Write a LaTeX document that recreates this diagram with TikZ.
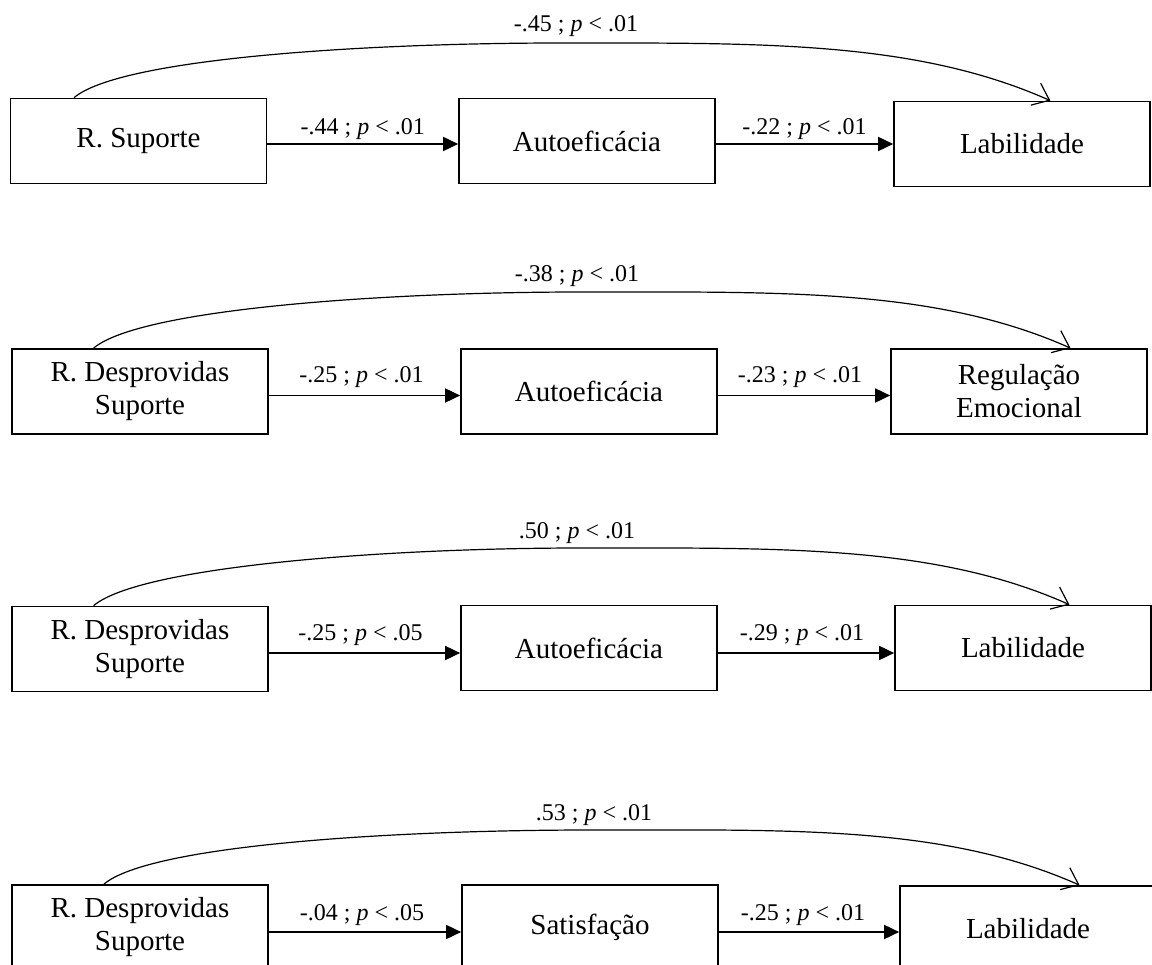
\documentclass[tikz,border=0pt]{standalone}
\usepackage{fontspec}
\setmainfont{Liberation Serif}
\usetikzlibrary{arrows.meta,calc}
\newcommand{\plab}[2]{#1 ; \textit{p} < #2}
\begin{document}
\begin{tikzpicture}[x=1pt,y=-1pt,
  box/.style={draw, line width=1.7pt, minimum width=256pt, minimum height=85pt,
    inner sep=0pt, align=center, font=\fontsize{29}{33}\selectfont},
  harrow/.style={line width=1.8pt, -{Triangle[length=15pt,width=14pt]}},
  curv/.style={line width=1.2pt, -{Straight Barb[length=15pt,width=24pt]}},
  lab/.style={anchor=base, font=\fontsize{24}{28}\selectfont, inner sep=0pt},
]
\useasboundingbox (0,0) rectangle (1152,965);
\clip (0,0) rectangle (1152,965);
\fill[white] (0,0) rectangle (1152,965);

% ---------- Row 1
\node[box] (L1) at (138.5,141) {R. Suporte};
\node[box] (M1) at (587,141) {Autoeficácia};
\node[box] (R1) at (1022,144) {Labilidade};
\coordinate (a1) at (0,144);
\draw[harrow] (L1.east |- a1) -- node[lab, yshift=9pt] {\plab{-.44}{.01}} (M1.west |- a1);
\draw[harrow] (M1.east |- a1) -- node[lab, yshift=9pt] {\plab{-.22}{.01}} (R1.west |- a1);
\coordinate (S1) at ($(L1.north west)!0.25!(L1.north east)$);
\coordinate (E1) at ($(R1.north west)!0.61!(R1.north east)$);
\coordinate (P1) at (562,43);
\draw[curv] (S1) .. controls +(46,-39) and +(-200,0) .. (P1)
            .. controls +(200,0) and +(-135,-60) .. (E1);
\node[lab] (T1) at (576,32) {\plab{-.45}{.01}};

% ---------- Row 2
\node[box] (L2) at (140,391.5) {R. Desprovidas\\Suporte};
\node[box] (M2) at (589,391.5) {Autoeficácia};
\node[box] (R2) at (1019,391.5) {Regulação\\Emocional};
\coordinate (a2) at (0,395.5);
\draw[harrow] (L2.east |- a2) -- node[lab, yshift=13pt, xshift=-3pt] {\plab{-.25}{.01}} (M2.west |- a2);
\draw[harrow] (M2.east |- a2) -- node[lab, yshift=13pt, xshift=-4pt] {\plab{-.23}{.01}} (R2.west |- a2);
\coordinate (S2) at ($(L2.north west)!0.32!(L2.north east)$);
\coordinate (E2) at ($(R2.north west)!0.70!(R2.north east)$);
\coordinate (P2) at (582,292);
\draw[curv] (S2) .. controls +(46,-39) and +(-200,0) .. (P2)
            .. controls +(200,0) and +(-135,-60) .. (E2);
\node[lab] (T2) at (577,282) {\plab{-.38}{.01}};

% ---------- Row 3
\node[box] (L3) at (140,649) {R. Desprovidas\\Suporte};
\node[box] (M3) at (589,648) {Autoeficácia};
\node[box] (R3) at (1023,648) {Labilidade};
\coordinate (a3) at (0,653);
\draw[harrow] (L3.east |- a3) -- node[lab, yshift=13pt, xshift=-4pt] {\plab{-.25}{.05}} (M3.west |- a3);
\draw[harrow] (M3.east |- a3) -- node[lab, yshift=13pt, xshift=-4pt] {\plab{-.29}{.01}} (R3.west |- a3);
\coordinate (S3) at ($(L3.north west)!0.32!(L3.north east)$);
\coordinate (E3) at ($(R3.north west)!0.68!(R3.north east)$);
\coordinate (P3) at (582,548);
\draw[curv] (S3) .. controls +(46,-39) and +(-200,0) .. (P3)
            .. controls +(200,0) and +(-135,-60) .. (E3);
\node[lab] (T3) at (577,539) {\plab{.50}{.01}};

% ---------- Row 4
\node[box] (L4) at (140,927.5) {R. Desprovidas\\Suporte};
\node[box] (M4) at (590,927.5) {Satisfação};
\node[box] (R4) at (1028,928.5) {Labilidade};
\coordinate (a4) at (0,932);
\draw[harrow] (L4.east |- a4) -- node[lab, yshift=12pt, xshift=-3pt] {\plab{-.04}{.05}} (M4.west |- a4);
\draw[harrow] (M4.east |- a4) -- node[lab, yshift=12pt, xshift=-6pt] {\plab{-.25}{.01}} (R4.west |- a4);
\coordinate (S4) at ($(L4.north west)!0.36!(L4.north east)$);
\coordinate (E4) at ($(R4.north west)!0.70!(R4.north east)$);
\coordinate (P4) at (592,830);
\draw[curv] (S4) .. controls +(46,-39) and +(-200,0) .. (P4)
            .. controls +(200,0) and +(-135,-60) .. (E4);
\node[lab] (T4) at (594,820) {\plab{.53}{.01}};
\end{tikzpicture}
\end{document}
